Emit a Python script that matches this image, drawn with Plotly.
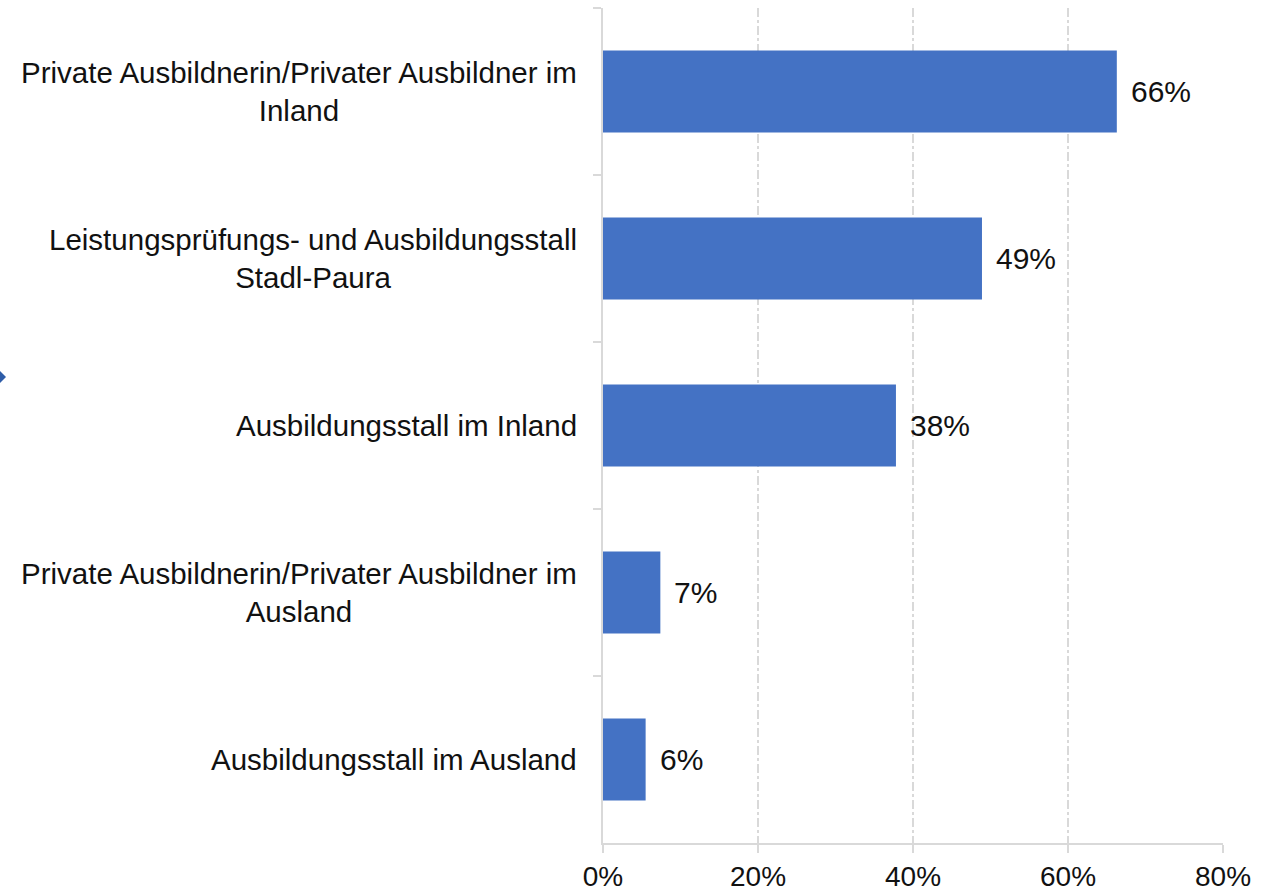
import plotly.graph_objects as go

categories = [
    "Private Ausbildnerin/Privater Ausbildner im<br>Inland",
    "Leistungsprüfungs- und Ausbildungsstall<br>Stadl-Paura",
    "Ausbildungsstall im Inland",
    "Private Ausbildnerin/Privater Ausbildner im<br>Ausland",
    "Ausbildungsstall im Ausland",
]
values = [66.3, 48.9, 37.8, 7.4, 5.5]
value_labels = ["66%", "49%", "38%", "7%", "6%"]
x_ticks = [0, 20, 40, 60, 80]
x_tick_labels = ["0%", "20%", "40%", "60%", "80%"]

FONT = "Liberation Sans, Arial, sans-serif"
GRID = "#D9D9D9"
W, H = 1279, 892
ML, MR, MT, MB = 603, 56, 8, 49
PW = W - ML - MR
PH = H - MT - MB

fig = go.Figure()
fig.add_trace(go.Bar(
    x=values, y=categories, orientation="h",
    marker=dict(color="#4472C4", line=dict(width=0)),
    width=0.49, hoverinfo="skip",
))

annotations = []
for c in categories:
    annotations.append(dict(
        x=-24 / PW, xref="paper", y=c, yref="y", text=c, showarrow=False,
        xanchor="right", yanchor="middle", align="center",
        font=dict(family=FONT, size=29.5, color="#111111"),
    ))
for c, v, t in zip(categories, values, value_labels):
    annotations.append(dict(
        x=v, xref="x", y=c, yref="y", text=t, showarrow=False,
        xanchor="left", yanchor="middle", xshift=12,
        font=dict(family=FONT, size=30, color="#111111"),
    ))

def px2paper(px, py):
    return (px - ML) / PW, (H - MB - py) / PH

pts = [px2paper(6, 377), px2paper(-7, 364), px2paper(-20, 377), px2paper(-7, 390)]
path = "M " + " L ".join(f"{x},{y}" for x, y in pts) + " Z"

fig.update_layout(
    width=W, height=H,
    margin=dict(l=ML, r=MR, t=MT, b=MB, autoexpand=False),
    paper_bgcolor="white", plot_bgcolor="white",
    showlegend=False,
    bargap=0.5,
    annotations=annotations,
    shapes=[dict(type="path", path=path, xref="paper", yref="paper",
                 fillcolor="#2F5DA8", line=dict(width=0), layer="above")],
    xaxis=dict(
        range=[0, 80], tickmode="array", tickvals=x_ticks, ticktext=x_tick_labels,
        showgrid=True, gridcolor=GRID, griddash="dashdot", gridwidth=1.5,
        showline=True, linecolor=GRID, linewidth=1.5,
        ticks="outside", ticklen=8, tickcolor=GRID, tickwidth=1.5,
        tickfont=dict(family=FONT, size=28, color="#111111"),
        zeroline=False, fixedrange=True,
    ),
    yaxis=dict(
        type="category", categoryorder="array", categoryarray=categories,
        autorange="reversed", range=[4.5, -0.5],
        showgrid=False, showline=True, linecolor=GRID, linewidth=1.5,
        ticks="outside", tickson="boundaries", ticklen=8, tickcolor=GRID, tickwidth=1.5,
        showticklabels=False, zeroline=False, fixedrange=True,
    ),
)

fig.write_html(
    "out.html",
    config={"displayModeBar": False},
    post_script="document.body.style.margin='0';document.body.style.overflow='hidden';",
)
